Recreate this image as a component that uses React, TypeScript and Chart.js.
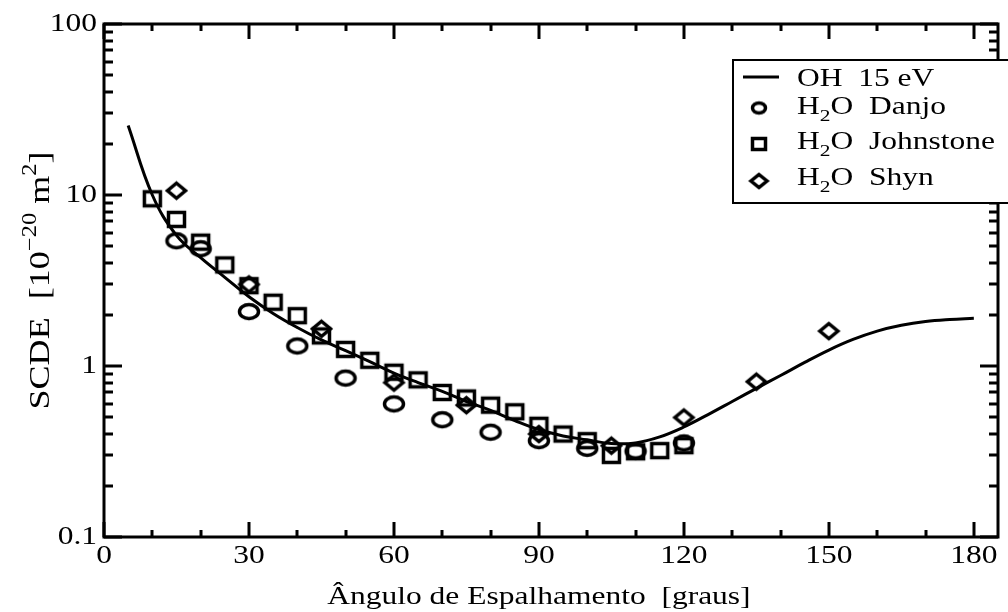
import React, { useEffect, useRef } from "react";
import { Chart, registerables } from "chart.js";

Chart.register(...registerables);

// ---- data ----
const curveAngles = [5, 10, 15, 20, 25, 30, 35, 40, 45, 50, 55, 60, 65, 70, 75, 80, 85, 90, 95, 100, 105, 110, 115, 120, 125, 130, 135, 140, 145, 150, 155, 160, 165, 170, 175, 180];
const curveValues = [25.5, 10.0, 5.8, 4.3, 3.3, 2.54, 2.03, 1.68, 1.42, 1.23, 1.06, 0.91, 0.80, 0.71, 0.62, 0.55, 0.48, 0.425, 0.39, 0.37, 0.352, 0.355, 0.385, 0.44, 0.52, 0.62, 0.74, 0.88, 1.05, 1.24, 1.43, 1.6, 1.73, 1.82, 1.87, 1.9];

const danjoAngles = [15, 20, 30, 40, 50, 60, 70, 80, 90, 100, 110, 120];
const danjoValues = [5.4, 4.85, 2.08, 1.31, 0.85, 0.60, 0.485, 0.41, 0.366, 0.33, 0.318, 0.355];

const johnstoneAngles = [10, 15, 20, 25, 30, 35, 40, 45, 50, 55, 60, 65, 70, 75, 80, 85, 90, 95, 100, 105, 110, 115, 120];
const johnstoneValues = [9.5, 7.2, 5.3, 3.9, 2.95, 2.36, 1.97, 1.5, 1.25, 1.08, 0.92, 0.83, 0.70, 0.65, 0.59, 0.54, 0.45, 0.40, 0.366, 0.30, 0.315, 0.32, 0.342];

const shynAngles = [15, 30, 45, 60, 75, 90, 105, 120, 135, 150];
const shynValues = [10.6, 3.0, 1.65, 0.80, 0.59, 0.40, 0.342, 0.50, 0.81, 1.6];

const xTickValues = [0, 30, 60, 90, 120, 150, 180];
const xTickLabels = ["0", "30", "60", "90", "120", "150", "180"];
const xMinorTicks = [10, 20, 40, 50, 70, 80, 100, 110, 130, 140, 160, 170];
const yTickValues = [0.1, 1, 10, 100];
const yTickLabels = ["0.1", "1", "10", "100"];
const yMinorMultipliers = [2, 3, 4, 5, 6, 7, 8, 9];

const xTitle = "Ângulo de Espalhamento  [graus]";
const legendNames = ["OH  15 eV", "Danjo", "Johnstone", "Shyn"];

const FONT = '"Liberation Serif", "Times New Roman", serif';
const FS = 25;
const FSS = 17;
const SX = 1.26;

type Seg = { t: string; size: number; dy: number };

function segWidth(ctx: CanvasRenderingContext2D, segs: Seg[]) {
  let w = 0;
  for (const s of segs) {
    ctx.font = `${s.size}px ${FONT}`;
    w += ctx.measureText(s.t).width;
  }
  return w;
}

function drawSegs(ctx: CanvasRenderingContext2D, segs: Seg[], x: number, y: number, sx: number, align: "left" | "center" | "right", baseline: CanvasTextBaseline = "alphabetic", sy = 1) {
  const w = segWidth(ctx, segs);
  const start = align === "left" ? 0 : align === "center" ? -w / 2 : -w;
  ctx.save();
  ctx.translate(x, y);
  ctx.scale(sx, sy);
  ctx.textBaseline = baseline;
  ctx.textAlign = "left";
  ctx.fillStyle = "#000";
  let cx = start;
  for (const s of segs) {
    ctx.font = `${s.size}px ${FONT}`;
    ctx.fillText(s.t, cx, s.dy);
    cx += ctx.measureText(s.t).width;
  }
  ctx.restore();
}

function makeMarker(kind: "circle" | "square" | "diamond", w: number, h: number, lw: number) {
  const c = document.createElement("canvas");
  const pad = lw + 1;
  c.width = Math.round(w + pad * 2);
  c.height = Math.round(h + pad * 2);
  const ctx = c.getContext("2d")!;
  ctx.strokeStyle = "#000";
  ctx.lineWidth = lw;
  ctx.lineJoin = "miter";
  const cx = c.width / 2;
  const cy = c.height / 2;
  ctx.beginPath();
  if (kind === "circle") {
    ctx.ellipse(cx, cy, w / 2, h / 2, 0, 0, Math.PI * 2);
  } else if (kind === "square") {
    ctx.rect(cx - w / 2, cy - h / 2, w, h);
  } else {
    ctx.moveTo(cx, cy - h / 2);
    ctx.lineTo(cx + w / 2, cy);
    ctx.lineTo(cx, cy + h / 2);
    ctx.lineTo(cx - w / 2, cy);
    ctx.closePath();
  }
  ctx.stroke();
  return c;
}

export default function App() {
  const ref = useRef<HTMLCanvasElement | null>(null);

  useEffect(() => {
    const canvas = ref.current;
    if (!canvas) return;

    const circleM = makeMarker("circle", 19, 14, 3.5);
    const squareM = makeMarker("square", 16, 14, 3.5);
    const diamondM = makeMarker("diamond", 18, 15, 3.5);
    const circleL = makeMarker("circle", 13, 10, 3.5);
    const squareL = makeMarker("square", 13, 11, 3.5);
    const diamondL = makeMarker("diamond", 16, 13, 3.5);

    const framePlugin = {
      id: "frame",
      afterDraw(chart: any) {
        const ctx: CanvasRenderingContext2D = chart.ctx;
        const { left, right, top, bottom } = chart.chartArea;
        const xs = chart.scales.x;
        const ys = chart.scales.y;
        ctx.save();
        ctx.strokeStyle = "#000";
        ctx.lineWidth = 3;
        ctx.lineCap = "butt";
        ctx.strokeRect(left, top, right - left, bottom - top);

        ctx.beginPath();
        for (const v of xTickValues) {
          const p = Math.round(xs.getPixelForValue(v));
          ctx.moveTo(p, bottom); ctx.lineTo(p, bottom - 15);
          ctx.moveTo(p, top); ctx.lineTo(p, top + 15);
        }
        for (const v of xMinorTicks) {
          const p = Math.round(xs.getPixelForValue(v));
          ctx.moveTo(p, bottom); ctx.lineTo(p, bottom - 7);
          ctx.moveTo(p, top); ctx.lineTo(p, top + 7);
        }
        for (const v of yTickValues) {
          const p = Math.round(ys.getPixelForValue(v));
          ctx.moveTo(left, p); ctx.lineTo(left + 18, p);
          ctx.moveTo(right, p); ctx.lineTo(right - 18, p);
        }
        for (let i = 0; i < yTickValues.length - 1; i++) {
          for (const m of yMinorMultipliers) {
            const p = Math.round(ys.getPixelForValue(yTickValues[i] * m));
            ctx.moveTo(left, p); ctx.lineTo(left + 9, p);
            ctx.moveTo(right, p); ctx.lineTo(right - 9, p);
          }
        }
        ctx.stroke();

        xTickValues.forEach((v, i) => {
          drawSegs(ctx, [{ t: xTickLabels[i], size: FS, dy: 0 }], xs.getPixelForValue(v), 556, SX, "center", "middle");
        });
        yTickValues.forEach((v, i) => {
          drawSegs(ctx, [{ t: yTickLabels[i], size: FS, dy: 0 }], left - 7, ys.getPixelForValue(v), SX, "right", "middle");
        });

        const xc = (xs.getPixelForValue(0) + xs.getPixelForValue(180)) / 2;
        drawSegs(ctx, [{ t: xTitle, size: FS, dy: 0 }], xc, 597, SX, "center", "middle");

        const ySegs: Seg[] = [
          { t: "SCDE  [10", size: FS, dy: 0 },
          { t: "\u221220", size: FSS, dy: -11 },
          { t: " m", size: FS, dy: 0 },
          { t: "2", size: FSS, dy: -11 },
          { t: "]", size: FS, dy: 0 },
        ];
        const yw = segWidth(ctx, ySegs);
        const along = 258 / yw;
        ctx.save();
        ctx.translate(49, (top + bottom) / 2);
        ctx.rotate(-Math.PI / 2);
        drawSegs(ctx, ySegs, 0, 0, along, "center", "alphabetic", 1.2);
        ctx.restore();

        // legend
        ctx.fillStyle = "#fff";
        ctx.fillRect(733, 60, 280, 143);
        ctx.lineWidth = 2;
        ctx.strokeRect(733, 60, 280, 143);
        ctx.lineWidth = 3;
        ctx.beginPath();
        ctx.moveTo(743, 77); ctx.lineTo(779, 77);
        ctx.stroke();
        drawSegs(ctx, [{ t: legendNames[0], size: FS, dy: 0 }], 797, 86, SX, "left");
        const rows = [
          { y: 114, my: 108, m: circleL, name: legendNames[1] },
          { y: 149, my: 144, m: squareL, name: legendNames[2] },
          { y: 185, my: 181, m: diamondL, name: legendNames[3] },
        ];
        for (const r of rows) {
          ctx.drawImage(r.m, 759 - r.m.width / 2, r.my - r.m.height / 2);
          drawSegs(ctx, [
            { t: "H", size: FS, dy: 0 },
            { t: "2", size: FSS, dy: 7 },
            { t: "O  " + r.name, size: FS, dy: 0 },
          ], 797, r.y, SX, "left");
        }
        ctx.restore();
      },
    };

    const chart = new Chart(canvas, {
      type: "scatter",
      data: {
        datasets: [
          {
            label: legendNames[0],
            data: curveAngles.map((x, i) => ({ x, y: curveValues[i] })),
            showLine: true,
            borderColor: "#000",
            backgroundColor: "#000",
            borderWidth: 3,
            pointRadius: 0,
            tension: 0.4,
            fill: false,
          } as any,
          {
            label: legendNames[1],
            data: danjoAngles.map((x, i) => ({ x, y: danjoValues[i] })),
            pointStyle: circleM as any,
            pointRadius: 9,
            showLine: false,
          },
          {
            label: legendNames[2],
            data: johnstoneAngles.map((x, i) => ({ x, y: johnstoneValues[i] })),
            pointStyle: squareM as any,
            pointRadius: 9,
            showLine: false,
          },
          {
            label: legendNames[3],
            data: shynAngles.map((x, i) => ({ x, y: shynValues[i] })),
            pointStyle: diamondM as any,
            pointRadius: 9,
            showLine: false,
          },
        ],
      },
      options: {
        animation: false,
        responsive: false,
        devicePixelRatio: 1,
        layout: { padding: { top: 24, right: 5, left: 0, bottom: 0 } },
        plugins: { legend: { display: false }, tooltip: { enabled: false } },
        scales: {
          x: {
            type: "linear",
            min: 0,
            max: 185,
            grid: { display: false },
            border: { display: false },
            ticks: { display: false },
            afterFit: (s: any) => { s.height = 75; },
          },
          y: {
            type: "logarithmic",
            min: 0.1,
            max: 100,
            grid: { display: false },
            border: { display: false },
            ticks: { display: false },
            afterFit: (s: any) => { s.width = 104; },
          },
        },
      },
      plugins: [framePlugin],
    });

    return () => chart.destroy();
  }, []);

  return (
    <div style={{ position: "absolute", left: 0, top: 0, width: 1008, height: 612, background: "#fff" }}>
      <canvas ref={ref} width={1008} height={612} style={{ display: "block", width: 1008, height: 612 }} />
    </div>
  );
}
